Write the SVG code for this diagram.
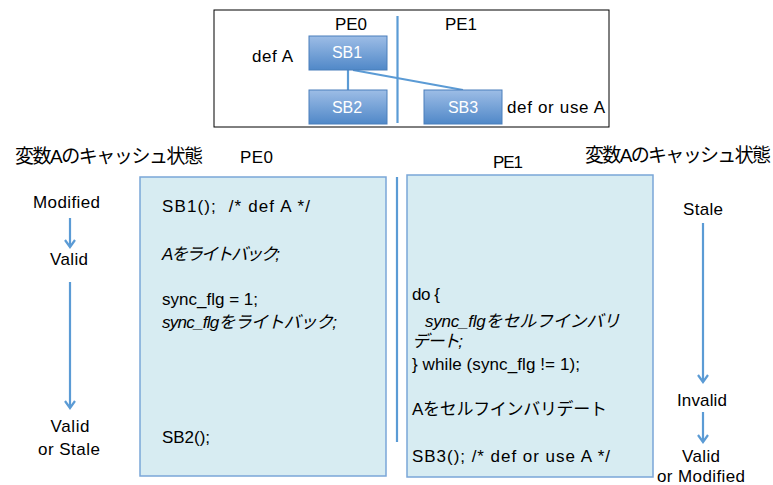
<svg xmlns="http://www.w3.org/2000/svg" width="773" height="485" viewBox="0 0 773 485">
<defs>
<linearGradient id="sbg" x1="0" y1="0" x2="0" y2="1">
<stop offset="0" stop-color="#9dbde6"/>
<stop offset="1" stop-color="#5088c8"/>
</linearGradient>
<marker id="ah" markerWidth="10" markerHeight="12" refX="8" refY="6" orient="auto" markerUnits="userSpaceOnUse" viewBox="0 0 10 12">
<path d="M1,1 L8,6 L1,11" fill="none" stroke="#5b9bd5" stroke-width="2.2"/>
</marker>
</defs>
<style>
text{font-family:"Liberation Sans","Noto Sans CJK JP",sans-serif;fill:#000;white-space:pre}
.t{font-size:17px}
.h{font-size:19px}
.s{font-size:17px;text-anchor:middle}
.sb rect{fill:url(#sbg);stroke:#4a7ebb;stroke-width:1}
.sb text{fill:#fff;font-size:16px;text-anchor:middle}
.panel{fill:#d7ecf2;stroke:#7aa6d8;stroke-width:1.5}
.ln{stroke:#5b9bd5;stroke-width:2.2;fill:none}
.it{font-style:italic}
</style>
<rect x="214" y="10" width="395" height="117" fill="#fff" stroke="#000" stroke-width="1"/>
<text class="t" x="335" y="30" textLength="32">PE0</text>
<text class="t" x="445" y="30" textLength="32">PE1</text>
<text class="t" x="252" y="62" textLength="41">def A</text>
<text class="t" x="507" y="113" textLength="98">def or use A</text>
<g id="connectors">
<line class="ln" x1="397.5" y1="16" x2="397.5" y2="123"/>
<line class="ln" x1="348" y1="70" x2="348" y2="90"/>
<line class="ln" x1="353" y1="70" x2="463" y2="90"/>
<line class="ln" x1="70" y1="218" x2="70" y2="247" marker-end="url(#ah)"/>
<line class="ln" x1="70" y1="282" x2="70" y2="408" marker-end="url(#ah)"/>
<line class="ln" x1="703" y1="223" x2="703" y2="382" marker-end="url(#ah)"/>
<line class="ln" x1="703" y1="412" x2="703" y2="442" marker-end="url(#ah)"/>
<line class="ln" x1="397" y1="177" x2="397" y2="442"/>
</g>
<g id="sb1" class="sb"><rect x="309" y="36" width="78" height="34"/><text x="347" y="58">SB1</text></g>
<g id="sb2" class="sb"><rect x="309" y="90" width="78" height="34"/><text x="347" y="113">SB2</text></g>
<g id="sb3" class="sb"><rect x="424" y="90" width="78" height="34"/><text x="463" y="113">SB3</text></g>

<text class="h" x="15" y="163" textLength="188">変数Aのキャッシュ状態</text>
<text class="t" x="240" y="163" textLength="33">PE0</text>
<text class="t" x="493" y="168" textLength="30">PE1</text>
<text class="h" x="585" y="162" textLength="186">変数Aのキャッシュ状態</text>

<g id="pe0">
<rect class="panel" x="140" y="177" width="246" height="299"/>
<text class="t" x="162" y="212" textLength="148">SB1();  /* def A */</text>
<text class="t it" x="162" y="260" textLength="118">Aをライトバック;</text>
<text class="t" x="162" y="305" textLength="96">sync_flg = 1;</text>
<text class="t it" x="162" y="328" textLength="175">sync_flgをライトバック;</text>
<text class="t" x="162" y="443" textLength="48">SB2();</text>
</g>
<g id="pe1">
<rect class="panel" x="407" y="175" width="246" height="302"/>
<text class="t" x="412" y="300" textLength="28">do {</text>
<text class="t it" x="425" y="327" textLength="195">sync_flgをセルフインバリ</text>
<text class="t it" x="412" y="347" textLength="51">デート;</text>
<text class="t" x="412" y="370" textLength="168">} while (sync_flg != 1);</text>
<text class="t" x="412" y="415" font-size="18" textLength="195">Aをセルフインバリデート</text>
<text class="t" x="412" y="462" textLength="198">SB3(); /* def or use A */</text>
</g>

<g id="left-states">
<text class="s" x="66.5" y="208" textLength="67">Modified</text>
<text class="s" x="69" y="265" textLength="38">Valid</text>
<text class="s" x="70" y="432" textLength="39">Valid</text>
<text class="s" x="69" y="455" textLength="62">or Stale</text>
</g>
<g id="right-states">
<text class="s" x="703" y="215" textLength="40">Stale</text>
<text class="s" x="702" y="406" textLength="50">Invalid</text>
<text class="s" x="701" y="462" textLength="38">Valid</text>
<text class="s" x="701" y="482" textLength="88">or Modified</text>
</g>
</svg>
